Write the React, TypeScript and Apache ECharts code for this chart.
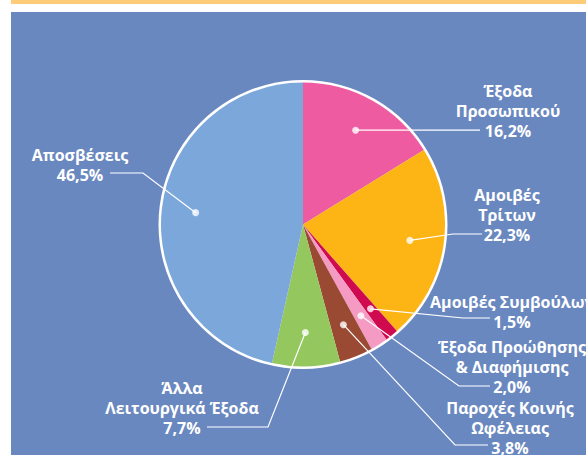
import React, { useEffect, useRef } from "react";
import * as echarts from "echarts";

const categories = [
  "Έξοδα\nΠροσωπικού",
  "Αμοιβές\nΤρίτων",
  "Αμοιβές Συμβούλων",
  "Έξοδα Προώθησης\n& Διαφήμισης",
  "Παροχές Κοινής\nΩφέλειας",
  "Άλλα\nΛειτουργικά Έξοδα",
  "Αποσβέσεις",
];
const values = [16.2, 22.3, 1.5, 2.0, 3.8, 7.7, 46.5];
const colors = ["#ef5ba1", "#fdb515", "#cf0a4f", "#f49ac3", "#9a4a32", "#94c85f", "#7ba7da"];

// label block centre, elbow and end of the leader line (layout only)
const labelLayoutPos: { x: number; y: number; elbow: number[] | null; end: number[] }[] = [
  { x: 508, y: 111, elbow: null, end: [480, 130] },
  { x: 507, y: 215, elbow: [453, 234], end: [482, 234] },
  { x: 512, y: 312, elbow: [463, 318], end: [490, 318] },
  { x: 512, y: 366.5, elbow: [459, 386], end: [490, 386] },
  { x: 510, y: 428, elbow: [455, 445], end: [488, 445] },
  { x: 182, y: 408, elbow: [268, 427], end: [207, 427] },
  { x: 80, y: 165, elbow: [143, 173], end: [110, 173] },
];

const CX = 303;
const CY = 224.5;
const R = 142;
const DOT_R = 108;

const fmt = (v: number) => v.toFixed(1).replace(".", ",") + "%";

export default function App() {
  const ref = useRef<HTMLDivElement>(null);
  useEffect(() => {
    if (!ref.current) return;
    const chart = echarts.init(ref.current, undefined, { renderer: "svg" });
    const total = values.reduce((a, b) => a + b, 0);
    let cum = 0;
    const mids = values.map((v) => {
      const m = cum + v / 2;
      cum += v;
      return m;
    });
    const pieData = categories.map((c, i) => ({
      name: c,
      value: values[i],
      itemStyle: { color: colors[i] },
    }));
    chart.setOption({
      animation: false,
      backgroundColor: "#ffffff",
      graphic: [
        { type: "rect", z: -1, silent: true, shape: { x: 11, y: 0, width: 575, height: 4 }, style: { fill: "#fecc78" } },
        { type: "rect", z: -1, silent: true, shape: { x: 11, y: 12, width: 575, height: 443 }, style: { fill: "#6a88c0" } },
      ],
      polar: { center: [CX, CY], radius: R },
      angleAxis: { type: "value", min: 0, max: total, startAngle: 90, clockwise: true, show: false },
      radiusAxis: { type: "value", min: 0, max: R, show: false },
      series: [
        {
          type: "pie",
          center: [CX, CY],
          radius: [0, R + 2.5],
          startAngle: 90,
          silent: true,
          label: { show: false },
          labelLine: { show: false },
          data: [{ value: 1, itemStyle: { color: "#ffffff" } }],
          z: 1,
        },
        {
          type: "pie",
          center: [CX, CY],
          radius: [0, R],
          startAngle: 90,
          silent: true,
          label: { show: false },
          labelLine: { show: false },
          data: pieData,
          z: 2,
        },
        {
          type: "pie",
          center: [CX, CY],
          radius: [0, DOT_R],
          startAngle: 90,
          silent: true,
          avoidLabelOverlap: false,
          itemStyle: { color: "rgba(0,0,0,0)" },
          label: {
            show: true,
            position: "outside",
            color: "#ffffff",
            fontFamily: "Open Sans",
            fontWeight: "bold",
            fontSize: 16,
            lineHeight: 20,
            align: "center",
            formatter: (p: any) => p.name + "\n" + fmt(p.value),
          },
          labelLine: { show: true, length: 10, length2: 10, lineStyle: { color: "#ffffff", width: 1.2 } },
          labelLayout: (p: any) => {
            const pos = labelLayoutPos[p.dataIndex];
            const start = p.labelLinePoints ? p.labelLinePoints[0] : [CX, CY];
            const elbow = pos.elbow ? pos.elbow : [(start[0] + pos.end[0]) / 2, start[1]];
            const end = pos.elbow ? pos.end : [pos.end[0], start[1]];
            return {
              x: pos.x,
              y: pos.y,
              align: "center",
              verticalAlign: "middle",
              labelLinePoints: [start, elbow, end],
            };
          },
          data: categories.map((c, i) => ({ name: c, value: values[i] })),
          z: 3,
        },
        {
          type: "scatter",
          coordinateSystem: "polar",
          silent: true,
          symbol: "circle",
          symbolSize: 7,
          itemStyle: { color: "#ffffff" },
          data: mids.map((m) => [DOT_R, m]),
          z: 4,
        },
      ],
    });
    return () => chart.dispose();
  }, []);
  return (
    <div
      ref={ref}
      style={{ position: "fixed", left: 0, top: 0, width: 586, height: 455 }}
    />
  );
}
